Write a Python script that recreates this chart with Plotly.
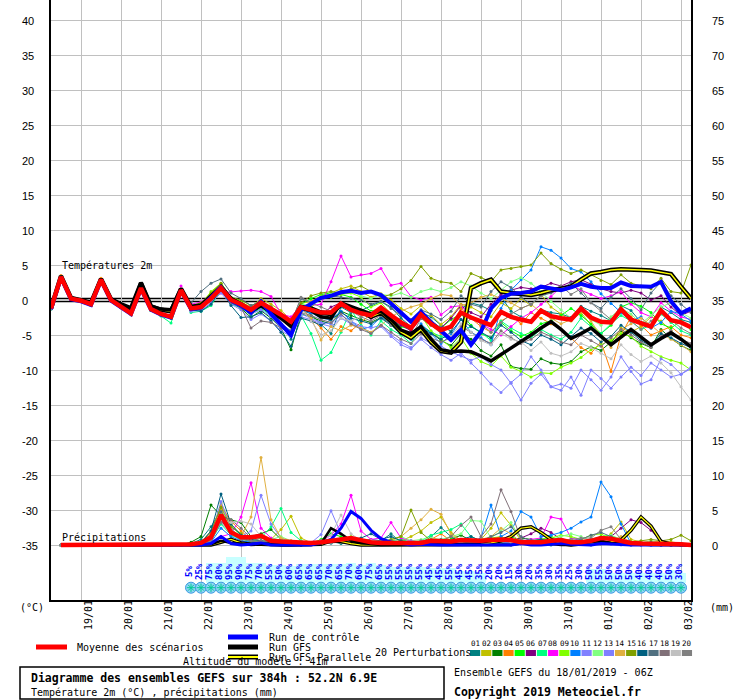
import plotly.graph_objects as go

# ---------------- data ----------------
hours = list(range(0, 385, 6))          # lead time (h) from 18/01/2019 06Z
date_labels = ["19/01", "20/01", "21/01", "22/01", "23/01", "24/01", "25/01", "26/01",
               "27/01", "28/01", "29/01", "30/01", "31/01", "01/02", "02/02", "03/02"]
date_hours = [18, 42, 66, 90, 114, 138, 162, 186, 210, 234, 258, 282, 306, 330, 354, 378]
temp_ticks = [-35, -30, -25, -20, -15, -10, -5, 0, 5, 10, 15, 20, 25, 30, 35, 40]
precip_ticks = [0, 5, 10, 15, 20, 25, 30, 35, 40, 45, 50, 55, 60, 65, 70, 75]

pert_labels = ["01", "02", "03", "04", "05", "06", "07", "08", "09", "10",
               "11", "12", "13", "14", "15", "16", "17", "18", "19", "20"]
pert_colors = ["#008080", "#c0c000", "#008000", "#ff8000", "#00ff00", "#800080", "#00ff80",
               "#ff00ff", "#80ff00", "#0080ff", "#8080ff", "#80ff80", "#7f7fff", "#e0b040",
               "#80a000", "#006080", "#507080", "#807078", "#c0c0c0", "#808080"]

# precipitation probability labels (from step 14 on) and cyan band level
pop_values = [5, 25, 75, 80, 95, 90, 75, 70, 55, 50, 60, 65, 65, 65, 70, 65, 70,
              60, 75, 65, 55, 55, 55, 55, 45, 45, 55, 45, 45, 35, 20, 20, 15,
              30, 20, 35, 30, 35, 25, 30, 50, 55, 50, 50, 50, 40, 40, 40, 50, 30]
cyan_levels = [0, 0, 20, 20, 26, 26, 20, 20, 18, 18, 17, 19, 19, 19, 19, 19, 20,
               18, 20, 18, 16, 16, 16, 16, 15, 15, 15, 12, 12, 10, 0, 0, 0,
               0, 0, 0, 0, 0, 0, 0, 14, 14, 10, 10, 10, 10, 10, 10, 13, 10]

# ---- 2 m temperatures (°C) ----
t_mean = [-1.2, 3.3, 0.2, -0.1, -0.6, 2.9, 0.0, -1.0, -1.9, 1.7, -1.3, -2.0, -2.4,
          1.4, -1.2, -1.0, 0.2, 1.7, 0.0, -0.6, -1.4, -0.4, -1.2, -2.1, -3.1, -1.0,
          -1.4, -1.8, -1.8, -0.5, -1.4, -1.9, -2.2, -1.1, -2.2, -3.2, -4.0, -2.1, -3.4,
          -4.3, -3.8, -1.8, -2.5, -3.0, -3.6, -1.7, -2.4, -2.8, -3.1, -1.5, -2.3, -2.6,
          -2.8, -1.2, -2.5, -3.1, -3.2, -1.3, -2.8, -3.3, -3.8, -1.5, -2.9, -3.2, -3.9]
t_ctrl = [-1.3, 3.2, 0.1, -0.2, -0.7, 2.8, -0.1, -1.1, -2.0, 1.6, -1.4, -2.1, -2.5,
          1.3, -1.3, -1.1, 0.3, 1.8, -0.1, -0.8, -1.8, -0.2, -2.0, -3.5, -5.0, -1.4,
          -0.6, 0.3, 0.6, 1.1, 1.3, 1.0, 1.2, 0.7, -0.5, -1.8, -3.1, -1.7, -3.2,
          -4.4, -5.7, -4.3, -6.4, -4.5, -1.2, 0.3, 0.9, 1.0, 1.2, 1.9, 1.6, 1.4,
          1.8, 2.3, 1.9, 1.7, 1.7, 2.5, 2.0, 1.9, 1.9, 2.6, -0.2, -1.9, -1.2]
t_gfs = [-1.2, 3.4, 0.3, 0.0, -0.4, 3.0, 0.1, -0.6, -1.3, 2.5, -0.9, -1.3, -1.4,
         1.6, -1.0, -0.8, 0.4, 1.9, 0.2, -0.6, -1.7, -0.8, -1.8, -2.6, -3.8, -1.2,
         -1.5, -2.4, -2.6, -0.4, -0.9, -1.4, -2.0, -1.6, -2.8, -4.3, -4.8, -3.8, -5.6,
         -7.1, -7.4, -7.3, -7.4, -8.0, -8.7, -7.8, -6.9, -6.0, -5.0, -4.0, -3.1, -4.2,
         -5.5, -4.8, -4.0, -5.2, -6.4, -5.3, -4.2, -5.3, -6.4, -5.5, -4.7, -5.6, -6.7]
t_par = [-1.2, 3.4, 0.3, 0.0, -0.4, 3.0, 0.1, -0.6, -1.2, 2.4, -0.9, -1.4, -1.6,
         1.6, -1.0, -0.8, 0.4, 1.8, 0.1, -0.6, -1.6, -0.6, -1.6, -2.4, -3.4, -1.0,
         -1.2, -1.8, -2.0, -0.6, -1.2, -1.6, -2.4, -1.8, -3.0, -4.6, -5.4, -4.2, -6.0,
         -7.3, -7.5, -6.0, 1.7, 2.4, 2.9, 1.2, 1.0, 0.8, 0.7, 1.0, 1.4, 1.6,
         1.9, 2.9, 3.8, 4.0, 4.3, 4.4, 4.4, 4.3, 4.2, 4.0, 3.7, 1.9, 0.2]

t_p01 = [-1.3, 3.4, 0.2, -0.2, -0.6, 2.9, 0.0, -1.0, -1.9, 1.7, -1.3, -2.1, -2.5,
         1.3, -1.5, -1.2, 0.5, 1.6, -0.3, -1.0, -2.2, -0.8, -1.9, -3.4, -5.6, -1.4,
         -2.0, -3.5, -4.8, -1.0, -1.8, -1.5, -0.8, -0.2, -1.0, -2.6, -3.8, -1.8, -2.4,
         -3.6, -4.5, -1.2, -0.4, -0.8, -1.5, 0.5, -1.6, -2.4, -3.0, -1.4, -1.8, -2.0,
         -2.5, -0.9, -1.6, -2.2, -3.0, -0.8, -1.5, -3.2, -4.0, -1.0, -1.8, -2.8, -3.2]
t_p02 = [-1.2, 3.3, 0.3, -0.1, -0.6, 3.0, 0.0, -0.9, -1.8, 1.8, -1.2, -2.0, -2.3,
         1.5, -1.0, -0.5, 0.8, 2.2, 0.2, -0.3, -1.0, 0.2, -0.6, -1.5, -2.8, -0.5,
         -0.2, 0.6, 1.0, 1.6, 2.0, 1.2, 0.4, 0.9, 0.0, -1.2, -2.0, -0.8, -2.2,
         -3.5, -2.4, -0.6, -1.0, -1.8, -2.4, -0.4, -1.2, 0.2, -0.8, 0.8, -1.0, -2.0,
         -3.0, -1.8, -3.6, -5.0, -6.2, -4.0, -4.6, -3.8, -2.4, -3.0, -4.4, -5.6, -7.0]
t_p03 = [-1.2, 3.2, 0.1, -0.2, -0.8, 2.8, -0.1, -1.1, -2.1, 1.6, -1.5, -2.2, -2.6,
         1.2, -1.4, -1.3, 0.0, 1.2, -0.4, -1.2, -2.5, -1.5, -2.6, -4.0, -7.1, -2.0,
         -2.4, -3.0, -3.4, -1.6, -2.2, -2.8, -3.2, -2.5, -3.4, -4.4, -5.2, -3.6, -4.6,
         -5.8, -6.5, -4.8, -5.6, -7.2, -8.0, -6.4, -9.5, -9.8, -9.9, -8.4, -9.0, -9.2,
         -8.8, -7.4, -6.7, -7.2, -6.0, -4.4, -5.4, -6.2, -6.8, -4.2, -5.5, -6.5, -7.2]
t_p04 = [-1.1, 3.5, 0.3, 0.0, -0.5, 3.1, 0.1, -0.9, -1.8, 1.8, -1.2, -1.9, -2.3,
         1.5, -1.1, -0.8, 0.6, 2.0, 0.1, -0.4, -1.4, -0.2, -1.5, -2.5, -3.6, -1.2,
         -2.6, -4.0, -5.6, -3.8, -4.4, -3.2, -2.0, -1.6, -2.8, -3.4, -4.2, -2.6, -3.6,
         -4.8, -3.6, -1.2, -2.6, -3.8, -4.6, -3.0, -2.2, -3.4, -1.8, -2.6, -3.4, -4.2,
         -5.4, -6.8, -7.6, -6.0, -10.2, -5.0, -2.4, -3.6, -5.0, -4.4, -3.8, -5.0, -5.4]
t_p05 = [-1.3, 3.3, 0.2, -0.1, -0.7, 2.9, 0.0, -1.0, -1.9, 1.7, -1.4, -2.1, -2.4,
         1.4, -1.3, -0.9, 0.4, 1.4, 0.2, -0.8, -1.6, -0.5, -1.0, -2.4, -3.2, -0.6,
         0.2, 0.8, 1.0, 0.8, 0.4, -0.6, -1.6, -1.2, -2.6, -3.8, -4.2, -1.8, -3.0,
         -4.0, -2.8, -2.0, -3.6, -4.8, -5.4, -3.2, -4.4, -5.2, -4.6, -3.4, -3.0, -2.2,
         -1.2, -2.2, -3.4, -4.8, -3.6, -1.0, -0.4, -0.9, -1.8, -3.4, -4.0, -3.0, -4.2]
t_p06 = [-1.2, 3.3, 0.2, -0.1, -0.6, 2.9, 0.0, -1.0, -1.9, 1.7, -1.3, -2.0, -2.4,
         1.4, -1.2, -0.9, 0.3, 1.6, -0.2, -0.9, -1.6, -0.8, -1.7, -2.8, -3.6, -1.4,
         -1.8, -2.2, -1.0, -0.4, -1.2, -1.8, -2.6, -1.4, -2.8, -3.6, -4.4, -2.6, -3.2,
         -4.0, -2.6, -0.8, -1.8, -2.4, -0.6, 0.8, 1.4, 1.8, 1.6, 1.8, 2.4, 2.0,
         2.6, 2.9, 2.2, 1.6, 1.2, 1.0, 1.4, 1.0, 0.0, 0.6, -1.0, -2.2, -1.6]
t_p07 = [-1.2, 3.3, 0.2, -0.1, -0.6, 2.9, 0.0, -1.0, -1.9, 1.7, -1.5, -2.3, -3.3,
         1.2, -1.8, -1.6, -0.8, 1.4, -0.6, -1.0, -2.0, -1.2, -2.2, -3.6, -4.8, -2.2,
         -4.8, -8.6, -7.5, -4.6, -1.4, -3.6, -5.0, -3.0, -4.2, -5.0, -6.2, -4.0, -4.6,
         -5.2, -5.6, -4.4, -3.8, -4.6, -5.8, -3.0, -4.0, -4.8, -5.4, -4.2, -5.0, -5.6,
         -4.6, -2.6, -3.8, -4.8, -3.4, -2.2, -3.0, -4.2, -3.6, -2.0, -3.2, -4.4, -5.0]
t_p08 = [-1.2, 3.3, 0.2, -0.1, -0.6, 2.9, 0.0, -1.0, -1.9, 1.7, -1.3, -2.0, -2.4,
         2.0, -0.6, -0.3, 0.8, 1.0, 1.2, 1.3, 1.4, 1.2, 0.5, -2.0, -2.4, -0.8,
         -0.8, -0.6, 2.6, 6.3, 3.3, 3.6, 3.8, 4.5, 2.1, 2.4, 0.5, 0.0, 0.4,
         -2.1, -1.0, -0.8, -2.6, -3.4, -4.2, -5.0, -3.8, -2.6, -1.8, -0.6, 0.5, 1.9,
         2.1, 1.4, 0.8, 0.2, 0.6, 1.2, -0.6, -1.8, -2.4, -0.4, -1.6, -2.4, -2.8]
t_p09 = [-1.2, 3.3, 0.2, -0.1, -0.6, 2.9, 0.0, -1.0, -1.9, 1.7, -1.3, -2.0, -2.4,
         1.4, -1.0, -0.6, 1.2, 2.4, 0.4, -0.2, -1.2, -0.6, -1.4, -2.4, -3.4, -0.8,
         -1.2, 0.6, 0.4, 0.8, 1.0, 0.4, -1.0, -0.4, -2.0, -3.0, -3.8, -2.2, -4.4,
         -5.6, -6.8, -5.4, -7.6, -8.8, -9.4, -8.0, -9.6, -10.2, -11.0, -10.4, -10.5, -9.6,
         -9.0, -8.2, -7.1, -6.4, -5.7, -4.8, -5.2, -6.6, -7.4, -8.1, -8.6, -9.0, -10.0]
t_p10 = [-1.2, 3.3, 0.2, -0.1, -0.6, 2.9, 0.0, -1.0, -1.9, 1.7, -1.3, -2.0, -2.4,
         1.4, -1.2, -1.0, 0.2, 1.5, -0.2, -0.8, -1.8, -1.0, -2.0, -3.4, -4.4, -1.6,
         -1.8, -2.6, -2.8, -1.6, -3.0, -4.2, -3.8, -2.4, -3.4, -4.8, -5.6, -3.4, -4.8,
         -6.2, -5.0, -2.8, -4.6, -5.4, -6.4, -1.2, 1.4, 2.9, 4.3, 7.6, 7.1, 6.0,
         4.5, 4.0, 2.6, 0.9, -0.5, -1.8, -3.0, -2.4, -4.0, -3.2, -1.6, -2.0, -3.0]
t_p11 = [-1.3, 3.2, 0.1, -0.2, -0.7, 2.8, -0.1, -1.1, -2.0, 1.6, -1.4, -2.1, -2.5,
         1.3, -1.6, -1.5, -0.4, 1.0, -0.6, -1.4, -2.8, -2.0, -3.0, -4.4, -5.2, -2.4,
         -2.8, -3.4, -3.8, -2.6, -3.4, -4.0, -4.6, -3.8, -5.2, -6.4, -7.0, -5.6, -6.8,
         -7.8, -8.6, -7.6, -9.0, -10.4, -12.0, -13.2, -11.8, -10.6, -8.1, -10.0, -12.4, -12.0,
         -12.6, -10.0, -11.4, -12.9, -11.0, -8.1, -10.2, -12.0, -11.4, -8.4, -9.2, -10.6, -9.8]
t_p12 = [-1.2, 3.3, 0.2, -0.1, -0.6, 2.9, 0.0, -1.0, -1.9, 1.7, -1.3, -2.0, -2.4,
         1.4, -1.0, -0.8, 0.6, 1.8, 0.2, -0.4, -1.2, -0.4, -1.2, -2.2, -3.0, -0.6,
         -0.8, 0.4, 1.0, 1.2, 1.4, 0.6, 0.2, 0.8, 0.6, 1.0, 0.4, 1.2, 1.6,
         1.2, 1.8, 2.6, 2.0, 1.0, 0.2, 1.4, 2.6, 3.2, 2.4, 1.2, -0.2, -1.4,
         -2.6, -1.6, -2.8, -3.6, -2.4, -1.2, -2.0, -3.4, -2.2, -1.0, -0.4, -1.8, -2.6]
t_p13 = [-1.2, 3.3, 0.2, -0.1, -0.6, 2.9, 0.0, -1.0, -1.9, 1.7, -1.3, -2.0, -2.4,
         1.4, -1.4, -1.2, 0.0, 1.2, -0.4, -1.0, -2.0, -1.4, -2.4, -4.0, -4.8, -2.0,
         -2.6, -3.2, -3.4, -2.2, -3.0, -3.8, -4.0, -3.6, -5.0, -6.0, -6.8, -5.4, -6.2,
         -6.6, -7.4, -8.0, -8.6, -8.1, -9.2, -10.0, -11.9, -14.3, -11.9, -10.6, -12.4, -12.9,
         -11.0, -13.6, -10.0, -11.2, -12.6, -11.0, -9.6, -10.8, -9.0, -10.0, -11.0, -10.6, -9.6]
t_p14 = [-1.2, 3.4, 0.3, -0.1, -0.6, 3.0, 0.0, -1.0, -1.9, 1.8, -1.3, -2.0, -2.4,
         1.4, -1.2, -0.9, 0.4, 1.6, -0.2, -0.8, -1.6, -0.6, -1.6, -2.6, -3.4, -1.0,
         -2.6, -5.7, -3.8, -4.4, -3.6, -4.0, -4.6, -3.6, -2.4, -1.6, -1.0, -0.6, 0.2,
         0.8, 0.6, -0.8, -0.4, 0.4, 0.8, 0.2, -0.4, -1.2, -0.6, -1.8, -2.6, -3.4,
         -2.8, -1.6, -3.0, -5.2, -6.8, -4.2, -3.4, -2.6, -3.6, -4.8, -5.6, -6.4, -7.4]
t_p15 = [-1.2, 3.3, 0.2, -0.1, -0.6, 2.9, 0.0, -1.0, -1.9, 1.7, -1.3, -2.0, -2.4,
         1.6, -0.8, -0.4, 1.0, 2.4, 0.4, 0.0, -0.8, -0.2, -1.0, -2.0, -3.0, -0.4,
         0.6, 1.0, 1.2, 1.0, 1.6, 2.0, 1.2, 0.4, 0.8, 1.6, 2.8, 4.8, 3.1,
         2.6, 2.4, 1.2, 3.8, 3.2, 2.6, 4.3, 4.5, 4.8, 5.0, 6.7, 5.2, 4.4,
         3.8, 4.3, 3.6, 2.8, 2.2, 3.6, 2.4, 2.0, 1.6, 3.1, 1.2, 1.0, 5.0]
t_p16 = [-1.2, 3.3, 0.2, -0.1, -0.6, 2.9, 0.0, -1.0, -1.9, 1.7, -1.3, -2.0, -2.4,
         1.4, -1.4, -1.6, -0.6, 1.6, -0.8, -2.5, -2.4, -1.8, -3.0, -4.6, -6.6, -2.6,
         -3.0, -3.6, -2.8, -1.8, -2.6, -3.0, -3.4, -2.6, -3.6, -4.8, -5.4, -4.0, -4.8,
         -5.6, -4.6, -2.8, -3.8, -4.6, -5.4, -3.6, -4.6, -5.8, -6.4, -5.0, -5.6, -6.4,
         -5.2, -4.0, -4.8, -6.0, -5.2, -3.6, -4.6, -5.8, -6.6, -4.8, -5.4, -6.2, -6.8]
t_p17 = [-1.2, 3.3, 0.2, -0.1, -0.6, 2.9, 0.0, -1.0, -1.9, 1.7, -1.3, -2.0, -2.4,
         1.4, -0.4, 1.2, 2.4, 3.0, 1.0, 0.2, -0.8, -0.2, -1.0, -2.2, -3.2, 0.2,
         -0.4, 0.2, 0.6, 0.4, 0.2, 0.0, -0.6, -0.2, -1.2, -2.2, -2.8, -1.4, -2.0,
         -2.8, -1.6, 0.6, -0.6, -1.0, 1.2, 2.6, 1.8, 0.4, -0.6, 0.6, 1.0, 1.6,
         2.4, 1.0, -0.4, -1.2, 0.4, 1.6, 0.2, -1.4, 1.0, 2.6, 0.6, -0.6, -1.8]
t_p18 = [-1.2, 3.3, 0.2, -0.1, -0.6, 2.9, 0.0, -1.0, -1.9, 1.7, -1.3, -2.0, -2.4,
         1.4, -1.2, -1.0, 0.2, 1.4, -0.4, -1.0, -4.0, -3.0, -3.2, -4.0, -4.4, -1.8,
         -2.2, -2.8, -3.2, -2.0, -3.4, -4.2, -4.8, -3.6, -4.6, -5.6, -6.2, -4.8, -5.4,
         -6.0, -5.4, -3.8, -4.6, -5.6, -6.2, -4.4, -5.4, -6.2, -5.6, -4.6, -5.2, -6.0,
         -6.4, -5.0, -5.8, -6.6, -5.4, -4.2, -5.0, -6.0, -6.8, -5.2, -4.4, -5.6, -6.2]
t_p19 = [-1.2, 3.3, 0.2, -0.1, -0.6, 2.9, 0.0, -1.0, -1.9, 1.7, -1.3, -2.0, -2.4,
         1.4, -1.2, -1.0, 0.4, 1.6, -0.2, -0.6, -1.4, -0.6, -1.6, -2.8, -3.6, -1.2,
         -3.0, -5.0, -4.4, -2.6, -3.0, -2.4, -1.8, -1.0, -2.0, -3.2, -4.0, -2.0, -2.8,
         -4.4, -5.2, -3.4, -4.6, -5.8, -6.4, -4.8, -5.6, -6.0, -7.2, -6.0, -7.6, -8.0,
         -7.4, -6.2, -6.8, -7.6, -8.4, -6.4, -7.8, -8.8, -8.0, -9.0, -10.4, -12.4, -14.3]
t_p20 = [-1.2, 3.3, 0.2, -0.1, -0.6, 2.9, 0.0, -1.0, -1.9, 1.7, -1.3, -2.0, -2.4,
         1.4, -1.0, -0.8, 0.6, 1.8, 0.0, -0.6, -1.4, -0.4, -1.4, -2.4, -3.4, 0.4,
         -0.4, -1.0, -1.6, -0.8, -1.6, -2.4, -3.0, -2.2, -3.6, -4.4, -5.4, -2.6, -3.6,
         -4.6, -5.8, -4.2, -2.6, -3.4, -4.6, -3.2, -2.0, -1.2, -0.6, 0.6, 1.4, 2.0,
         0.8, 1.6, -0.4, -1.6, -2.8, -1.4, -3.0, -4.2, -3.0, -1.8, -2.8, -4.0, -4.8]

# ---- precipitation (mm per 6 h) ----
p_mean = [None, 0, 0, 0, 0, 0, 0, 0, 0, 0, 0, 0, 0, 0,
          0.1, 0.3, 1.1, 4.3, 1.8, 1.1, 1.1, 1.3, 0.6, 0.5, 0.4, 0.4,
          0.3, 0.4, 0.6, 0.8, 1.0, 0.7, 0.4, 0.3, 0.3, 0.3, 0.4, 0.3, 0.6,
          0.6, 0.5, 0.7, 0.6, 0.6, 0.7, 0.8, 0.7, 0.4, 0.4, 0.4, 0.6, 0.7,
          0.4, 0.4, 0.6, 1.0, 0.9, 0.6, 0.3, 0.2, 0.2, 0.2, 0.1, 0.1, 0.0]
p_ctrl = [None, 0, 0, 0, 0, 0, 0, 0, 0, 0, 0, 0, 0, 0,
          0.0, 0.0, 0.2, 1.2, 0.2, 0.0, 0.1, 0.3, 0.0, 0.0, 0.0, 0.0,
          0.0, 0.3, 0.8, 2.4, 4.8, 3.8, 2.1, 0.9, 0.4, 0.2, 0.0, 0.1, 0.0,
          0.0, 0.0, 0.0, 0.1, 0.0, 0.0, 0.1, 0.0, 0.2, 0.0, 0.0, 0.1, 0.2,
          0.1, 0.0, 0.0, 0.2, 0.1, 0.0, 0.0, 0.0, 0.0, 0.0, 0.0, 0.0, 0.0]
p_gfs = [None, 0, 0, 0, 0, 0, 0, 0, 0, 0, 0, 0, 0, 0,
         0.0, 0.0, 0.1, 0.6, 0.3, 0.2, 0.0, 0.1, 0.2, 0.0, 0.0, 0.0,
         0.0, 0.2, 2.4, 1.6, 0.6, 0.3, 0.1, 0.0, 0.0, 0.0, 0.0, 0.0, 0.0,
         0.0, 0.0, 0.1, 0.0, 0.0, 0.0, 0.0, 0.0, 0.2, 0.4, 0.3, 0.1, 0.0,
         0.0, 0.2, 0.4, 0.6, 0.3, 0.2, 0.1, 0.0, 0.0, 0.0, 0.0, 0.0, 0.0]
p_par = [None, 0, 0, 0, 0, 0, 0, 0, 0, 0, 0, 0, 0, 0,
         0.0, 0.0, 0.0, 0.4, 0.8, 0.3, 0.1, 0.1, 0.0, 0.0, 0.0, 0.0,
         0.0, 0.1, 0.6, 0.5, 0.2, 0.0, 0.0, 0.0, 0.0, 0.0, 0.0, 0.0, 0.0,
         0.0, 0.0, 0.0, 0.0, 0.1, 0.3, 0.6, 1.2, 2.4, 2.6, 1.8, 0.8, 0.2,
         0.0, 0.1, 0.3, 0.2, 0.4, 0.7, 2.1, 4.0, 2.7, 0.5, 0.1, 0.0, 0.0]

p_p01 = [None, 0, 0, 0, 0, 0, 0, 0, 0, 0, 0, 0, 0, 0,
         0.2, 0.8, 2.6, 5.0, 2.2, 1.0, 0.6, 0.4, 0.2, 0.4, 0.2, 0.0,
         0.1, 0.3, 0.5, 0.2, 0.4, 0.6, 0.8, 0.6, 1.6, 0.4, 0.2, 0.3, 1.2,
         2.5, 1.2, 0.4, 0.2, 0.0, 0.3, 0.1, 0.0, 0.2, 0.4, 0.2, 0.0, 0.3,
         0.6, 0.2, 0.0, 0.3, 0.4, 0.2, 0.0, 0.0, 0.3, 0.1, 0.0, 0.0, 0.0]
p_p02 = [None, 0, 0, 0, 0, 0, 0, 0, 0, 0, 0, 0, 0, 0,
         0.0, 0.4, 1.5, 6.0, 3.0, 1.4, 0.6, 0.4, 0.8, 2.2, 4.1, 1.0,
         0.3, 0.2, 0.6, 0.4, 0.8, 0.6, 0.3, 0.4, 0.2, 0.6, 1.2, 2.0, 3.2,
         4.0, 1.8, 0.6, 0.4, 0.8, 2.4, 4.6, 2.8, 0.6, 0.2, 0.4, 0.6, 0.8,
         0.6, 0.4, 0.2, 0.5, 1.6, 3.3, 0.8, 0.4, 0.2, 0.6, 0.4, 0.2, 0.1]
p_p03 = [None, 0, 0, 0, 0, 0, 0, 0, 0, 0, 0, 0, 0, 0,
         0.4, 1.2, 5.7, 4.2, 3.6, 3.2, 1.2, 1.6, 2.2, 0.8, 0.3, 0.2,
         0.1, 0.2, 0.8, 0.4, 0.2, 0.6, 0.3, 0.1, 0.2, 0.4, 0.6, 0.3, 0.2,
         0.4, 0.8, 1.4, 0.6, 0.3, 0.2, 0.4, 0.6, 1.0, 0.8, 0.4, 0.6, 0.9,
         0.6, 0.3, 0.2, 0.4, 0.3, 0.2, 0.4, 0.2, 0.1, 0.2, 0.0, 0.0, 0.0]
p_p04 = [None, 0, 0, 0, 0, 0, 0, 0, 0, 0, 0, 0, 0, 0,
         0.0, 0.2, 1.8, 5.5, 3.4, 2.0, 0.8, 0.6, 0.4, 0.2, 0.6, 0.4,
         0.2, 0.4, 0.6, 1.0, 0.6, 0.4, 0.2, 0.2, 0.4, 0.6, 0.4, 0.2, 0.8,
         1.6, 0.6, 0.4, 0.2, 0.4, 0.8, 1.2, 0.6, 0.2, 0.3, 0.5, 0.2, 0.4,
         0.8, 0.4, 0.3, 0.2, 0.6, 0.4, 0.2, 0.1, 0.2, 0.4, 0.2, 0.1, 0.0]
p_p05 = [None, 0, 0, 0, 0, 0, 0, 0, 0, 0, 0, 0, 0, 0,
         0.0, 0.1, 1.0, 4.5, 2.0, 1.0, 0.4, 0.2, 0.3, 0.6, 0.2, 0.1,
         0.2, 0.8, 1.6, 1.2, 0.6, 0.4, 0.2, 0.3, 0.2, 0.1, 0.3, 0.2, 0.4,
         0.6, 0.8, 0.4, 0.3, 0.6, 0.4, 0.8, 1.2, 0.6, 0.4, 0.8, 1.2, 0.6,
         0.4, 0.2, 0.8, 1.2, 1.4, 0.6, 0.3, 0.2, 0.4, 0.3, 0.2, 0.1, 0.0]
p_p06 = [None, 0, 0, 0, 0, 0, 0, 0, 0, 0, 0, 0, 0, 0,
         0.0, 0.2, 0.8, 3.5, 1.8, 0.6, 0.3, 0.2, 0.1, 0.2, 0.1, 0.0,
         0.1, 0.2, 0.4, 0.8, 0.6, 0.3, 0.2, 0.1, 0.1, 0.2, 0.4, 0.3, 0.2,
         0.1, 0.2, 0.4, 0.3, 0.2, 0.1, 0.3, 0.6, 1.0, 1.6, 2.4, 1.8, 0.8,
         0.6, 0.4, 0.3, 0.6, 1.2, 2.4, 3.6, 3.2, 2.1, 0.6, 0.2, 0.1, 0.0]
p_p07 = [None, 0, 0, 0, 0, 0, 0, 0, 0, 0, 0, 0, 0, 0,
         0.0, 0.1, 0.6, 3.0, 1.4, 0.8, 0.6, 1.0, 2.6, 5.2, 1.8, 0.6,
         0.2, 0.1, 0.3, 0.6, 0.4, 0.2, 0.3, 0.2, 0.6, 0.8, 0.4, 0.6, 1.4,
         1.8, 2.2, 3.0, 1.2, 0.6, 0.4, 0.3, 0.2, 0.4, 0.6, 0.8, 0.6, 0.4,
         0.4, 0.6, 0.4, 0.2, 0.3, 0.2, 0.1, 0.2, 0.1, 0.0, 0.0, 0.0, 0.0]
p_p08 = [None, 0, 0, 0, 0, 0, 0, 0, 0, 0, 0, 0, 0, 0,
         0.0, 0.0, 0.4, 1.2, 1.6, 4.0, 8.9, 2.4, 1.0, 0.6, 0.4, 0.3,
         0.2, 0.6, 1.4, 3.0, 7.1, 2.0, 0.8, 1.0, 3.2, 1.0, 0.6, 0.4, 0.3,
         0.2, 0.4, 0.3, 0.2, 0.4, 0.3, 0.2, 0.4, 0.6, 0.8, 1.0, 4.0, 3.7,
         1.0, 0.6, 0.4, 0.2, 0.2, 0.4, 0.2, 0.1, 0.0, 0.0, 0.1, 0.0, 0.0]
p_p09 = [None, 0, 0, 0, 0, 0, 0, 0, 0, 0, 0, 0, 0, 0,
         0.0, 0.2, 0.8, 4.0, 2.6, 1.6, 0.8, 0.4, 0.6, 0.8, 0.4, 0.2,
         0.3, 0.4, 0.6, 0.8, 1.2, 0.8, 0.4, 0.2, 0.3, 0.6, 0.4, 0.2, 0.6,
         0.8, 0.6, 0.3, 0.6, 0.8, 1.0, 1.2, 0.6, 0.4, 0.6, 0.8, 1.0, 1.4,
         1.2, 0.8, 1.4, 1.6, 0.8, 0.6, 0.4, 0.3, 0.2, 0.4, 0.2, 0.1, 0.0]
p_p10 = [None, 0, 0, 0, 0, 0, 0, 0, 0, 0, 0, 0, 0, 0,
         0.0, 0.1, 0.4, 2.4, 1.2, 0.6, 0.4, 0.2, 0.4, 0.2, 0.3, 0.2,
         0.1, 0.2, 0.3, 0.4, 0.6, 0.4, 0.2, 0.1, 0.2, 0.1, 0.2, 0.3, 0.2,
         0.2, 0.4, 0.6, 0.4, 1.0, 5.7, 1.2, 2.0, 4.8, 4.0, 1.2, 1.4, 1.8,
         2.4, 3.3, 4.0, 9.0, 6.9, 3.0, 0.2, 0.1, 0.3, 0.6, 0.2, 0.1, 0.0]
p_p11 = [None, 0, 0, 0, 0, 0, 0, 0, 0, 0, 0, 0, 0, 0,
         0.0, 0.2, 1.0, 3.6, 2.0, 1.2, 2.0, 7.1, 3.0, 1.0, 0.4, 0.2,
         0.3, 1.5, 4.9, 1.6, 0.6, 0.4, 0.2, 0.3, 0.2, 0.4, 0.2, 0.1, 0.3,
         0.2, 0.4, 0.2, 0.1, 0.3, 0.2, 0.4, 0.2, 0.1, 0.2, 0.3, 0.2, 0.1,
         0.2, 0.1, 0.3, 0.2, 0.1, 0.0, 0.1, 0.0, 0.0, 0.0, 0.0, 0.0, 0.0]
p_p12 = [None, 0, 0, 0, 0, 0, 0, 0, 0, 0, 0, 0, 0, 0,
         0.0, 0.3, 1.4, 4.4, 2.8, 1.2, 0.8, 0.6, 0.8, 1.2, 0.6, 0.2,
         0.2, 0.3, 0.6, 0.4, 0.3, 0.4, 0.6, 0.4, 0.8, 1.2, 0.6, 0.8, 1.0,
         0.8, 1.2, 1.6, 3.5, 3.4, 1.0, 2.0, 3.2, 0.8, 0.4, 0.6, 0.8, 1.2,
         1.6, 1.2, 0.6, 1.0, 1.4, 0.8, 0.4, 0.3, 0.6, 0.4, 0.2, 0.1, 0.0]
p_p13 = [None, 0, 0, 0, 0, 0, 0, 0, 0, 0, 0, 0, 0, 0,
         0.0, 0.2, 1.2, 6.2, 2.4, 1.0, 0.6, 0.4, 0.3, 0.6, 0.4, 0.2,
         0.2, 0.4, 0.8, 0.6, 0.4, 0.2, 0.4, 0.3, 0.2, 0.4, 0.6, 0.4, 0.2,
         0.2, 0.4, 0.3, 0.2, 0.4, 0.3, 0.2, 0.3, 0.4, 0.2, 0.1, 0.2, 0.3,
         0.2, 0.1, 0.2, 0.3, 0.2, 0.1, 0.0, 0.1, 0.0, 0.0, 0.0, 0.0, 0.0]
p_p14 = [None, 0, 0, 0, 0, 0, 0, 0, 0, 0, 0, 0, 0, 0,
         0.0, 0.1, 0.6, 5.0, 2.2, 1.2, 4.0, 12.5, 3.6, 1.0, 0.6, 0.4,
         0.2, 0.4, 0.6, 0.8, 0.6, 0.4, 0.3, 0.4, 0.6, 1.2, 2.4, 3.6, 5.1,
         4.4, 1.5, 0.6, 0.4, 0.8, 1.2, 2.4, 1.6, 0.4, 0.2, 0.3, 0.2, 0.4,
         0.6, 0.4, 0.3, 0.2, 0.6, 1.2, 0.4, 0.2, 0.3, 0.6, 0.3, 0.1, 0.0]
p_p15 = [None, 0, 0, 0, 0, 0, 0, 0, 0, 0, 0, 0, 0, 0,
         0.0, 0.4, 2.0, 5.4, 2.6, 1.6, 0.6, 0.4, 0.3, 0.2, 0.4, 0.3,
         0.2, 0.3, 0.4, 0.6, 0.4, 0.3, 0.2, 0.4, 0.8, 1.2, 5.0, 1.8, 0.6,
         0.4, 0.3, 0.2, 0.4, 0.3, 0.2, 0.4, 0.6, 0.3, 0.2, 0.4, 0.3, 0.2,
         0.3, 0.2, 0.4, 0.3, 0.2, 0.3, 0.4, 0.6, 0.8, 0.6, 0.8, 1.4, 0.6]
p_p16 = [None, 0, 0, 0, 0, 0, 0, 0, 0, 0, 0, 0, 0, 0,
         0.0, 0.3, 2.0, 7.3, 3.0, 1.4, 0.8, 0.6, 0.4, 0.3, 0.2, 0.1,
         0.1, 0.2, 0.4, 0.6, 0.8, 1.0, 1.6, 0.8, 1.2, 0.6, 0.4, 0.2, 0.4,
         0.6, 0.4, 0.8, 1.2, 0.6, 0.4, 0.2, 0.3, 0.4, 0.6, 0.8, 0.6, 0.4,
         0.3, 0.2, 0.4, 0.6, 0.4, 0.3, 0.2, 0.1, 0.2, 0.1, 0.0, 0.0, 0.0]
p_p17 = [None, 0, 0, 0, 0, 0, 0, 0, 0, 0, 0, 0, 0, 0,
         0.0, 0.2, 1.4, 4.8, 2.0, 1.0, 0.6, 0.4, 0.8, 0.6, 0.3, 0.2,
         0.2, 0.3, 0.6, 0.8, 0.4, 0.2, 0.3, 0.4, 0.6, 0.3, 0.2, 0.4, 0.6,
         0.8, 0.6, 0.4, 0.3, 0.6, 1.2, 1.8, 2.6, 1.2, 0.6, 0.4, 0.3, 0.4,
         0.6, 0.8, 1.4, 1.8, 1.2, 0.6, 0.3, 0.2, 0.4, 0.2, 0.1, 0.0, 0.0]
p_p18 = [None, 0, 0, 0, 0, 0, 0, 0, 0, 0, 0, 0, 0, 0,
         0.0, 0.1, 0.8, 4.0, 3.6, 2.4, 1.0, 0.6, 0.4, 0.3, 0.2, 0.1,
         0.1, 0.2, 0.3, 0.4, 0.3, 0.2, 0.4, 0.6, 0.4, 0.2, 0.3, 0.6, 0.8,
         0.6, 1.2, 2.8, 4.0, 1.2, 3.0, 7.9, 4.8, 0.8, 0.4, 0.3, 0.2, 0.4,
         0.3, 0.2, 0.4, 0.6, 0.3, 0.2, 0.1, 0.2, 0.1, 0.0, 0.0, 0.0, 0.0]
p_p19 = [None, 0, 0, 0, 0, 0, 0, 0, 0, 0, 0, 0, 0, 0,
         0.0, 0.2, 1.0, 3.6, 3.2, 3.4, 3.0, 1.2, 0.6, 0.4, 0.2, 0.1,
         0.1, 0.3, 1.4, 4.3, 1.6, 0.6, 0.3, 0.2, 0.4, 0.2, 0.3, 0.2, 0.4,
         0.3, 0.2, 0.4, 0.6, 0.4, 0.3, 0.6, 0.4, 0.2, 0.3, 0.4, 0.6, 0.8,
         0.6, 0.4, 0.3, 0.2, 0.4, 0.6, 0.3, 0.2, 0.1, 0.2, 0.1, 0.0, 0.0]
p_p20 = [None, 0, 0, 0, 0, 0, 0, 0, 0, 0, 0, 0, 0, 0,
         0.0, 0.1, 0.6, 3.2, 1.8, 0.8, 0.6, 0.4, 0.3, 0.2, 0.4, 0.3,
         0.2, 0.3, 0.4, 0.6, 0.4, 0.3, 0.2, 0.4, 0.3, 0.2, 0.4, 0.3, 0.2,
         0.3, 0.4, 0.6, 0.4, 0.3, 0.2, 0.4, 0.6, 0.4, 0.3, 0.2, 0.4, 0.6,
         0.8, 1.0, 1.0, 2.1, 2.6, 0.8, 0.4, 0.3, 0.2, 0.1, 0.0, 0.0, 0.0]

pert_temps = [t_p01, t_p02, t_p03, t_p04, t_p05, t_p06, t_p07, t_p08, t_p09, t_p10,
              t_p11, t_p12, t_p13, t_p14, t_p15, t_p16, t_p17, t_p18, t_p19, t_p20]
pert_precs = [p_p01, p_p02, p_p03, p_p04, p_p05, p_p06, p_p07, p_p08, p_p09, p_p10,
              p_p11, p_p12, p_p13, p_p14, p_p15, p_p16, p_p17, p_p18, p_p19, p_p20]

for s in pert_temps + pert_precs + [t_mean, t_ctrl, t_gfs, t_par, p_mean, p_ctrl, p_gfs, p_par]:
    assert len(s) == len(hours), len(s)
assert len(pop_values) == len(cyan_levels) == 50

# ---------------- layout helpers ----------------
MONO = "DejaVu Sans Mono"
SANS = "Liberation Sans"
PLOT_L, PLOT_W, PLOT_H = 51, 640, 600
PX_PER_DEG = 7
Y_HALF = 300 / PX_PER_DEG       # 0 °C in the middle of the plot
SNOW_ROW = -41.1                # °C-axis position of the icon row
CYAN_BASE = -40.43              # °C-axis position of the bottom of the cyan band


def px(X):
    return (X - PLOT_L) / PLOT_W


def py(Y):
    return (PLOT_H - Y) / PLOT_H


fig = go.Figure()

# cyan band behind the probability labels (levels in pixels -> axis units)
pop_hours = hours[14:14 + len(pop_values)]
fig.add_trace(go.Bar(x=pop_hours, y=[lv / PX_PER_DEG for lv in cyan_levels], base=CYAN_BASE,
                     width=6, marker=dict(color="#c8ffff", line=dict(width=0)),
                     hoverinfo="skip"))

# snow icons row
fig.add_trace(go.Scatter(x=pop_hours, y=[SNOW_ROW] * len(pop_hours), mode="markers",
                         marker=dict(symbol="circle", size=11, color="#8fd3f5",
                                     line=dict(color="#3c9be0", width=1)),
                         hoverinfo="skip", cliponaxis=False))
fig.add_trace(go.Scatter(x=pop_hours, y=[SNOW_ROW] * len(pop_hours), mode="markers",
                         marker=dict(symbol="asterisk-open", size=7,
                                     line=dict(color="#ffffff", width=1)),
                         hoverinfo="skip", cliponaxis=False))

# temperature perturbations
for t, c in zip(pert_temps, pert_colors):
    fig.add_trace(go.Scatter(x=hours, y=t, mode="lines+markers",
                             line=dict(color=c, width=1), marker=dict(size=3, color=c),
                             hoverinfo="skip"))
fig.add_trace(go.Scatter(x=hours, y=t_par, mode="lines", line=dict(color="#000000", width=4.5),
                         hoverinfo="skip"))
fig.add_trace(go.Scatter(x=hours, y=t_par, mode="lines", line=dict(color="#ffff00", width=1.5),
                         hoverinfo="skip"))
fig.add_trace(go.Scatter(x=hours, y=t_gfs, mode="lines", line=dict(color="#000000", width=3.5),
                         hoverinfo="skip"))
fig.add_trace(go.Scatter(x=hours, y=t_ctrl, mode="lines", line=dict(color="#0000ff", width=4),
                         hoverinfo="skip"))
fig.add_trace(go.Scatter(x=hours, y=t_mean, mode="lines", line=dict(color="#ff0000", width=4.5),
                         hoverinfo="skip"))

# precipitation (right axis, mm)
for p, c in zip(pert_precs, pert_colors):
    fig.add_trace(go.Scatter(x=hours, y=p, mode="lines+markers", yaxis="y2",
                             line=dict(color=c, width=1), marker=dict(size=3, color=c),
                             hoverinfo="skip"))
fig.add_trace(go.Scatter(x=hours, y=p_par, mode="lines", yaxis="y2",
                         line=dict(color="#000000", width=3.5), hoverinfo="skip"))
fig.add_trace(go.Scatter(x=hours, y=p_par, mode="lines", yaxis="y2",
                         line=dict(color="#ffff00", width=1.2), hoverinfo="skip"))
fig.add_trace(go.Scatter(x=hours, y=p_gfs, mode="lines", yaxis="y2",
                         line=dict(color="#000000", width=2.5), hoverinfo="skip"))
fig.add_trace(go.Scatter(x=hours, y=p_ctrl, mode="lines", yaxis="y2",
                         line=dict(color="#0000ff", width=3), hoverinfo="skip"))
fig.add_trace(go.Scatter(x=hours, y=p_mean, mode="lines", yaxis="y2",
                         line=dict(color="#ff0000", width=4.5), hoverinfo="skip"))

ann = []
shapes = []


def text(x, y, s, size=10, bold=False, xanchor="left", color="black", family=MONO, **kw):
    ann.append(dict(x=x, y=y, xref=kw.pop("xref", "paper"), yref=kw.pop("yref", "paper"),
                    text=("<b>%s</b>" % s) if bold else s, showarrow=False,
                    xanchor=xanchor, yanchor="middle",
                    font=dict(family=family, size=size, color=color), **kw))


# axis labels
for v in temp_ticks:
    text(px(20), v, str(v), size=11, family=SANS, yref="y", yshift=-1)
for v in precip_ticks:
    text(px(710), v, str(v), size=11, family=SANS, yref="y2", yshift=-1)
for h, lab in zip(date_hours, date_labels):
    text(h, py(615), lab, size=10, xanchor="center", xref="x", textangle=-90, xshift=7)
text(px(32), py(607), "(°C)", xanchor="center")
text(px(722), py(607), "(mm)", xanchor="center")
text(px(60), py(265), "Températures 2m")
text(px(60), py(537), "Précipitations")

# probability labels
for h, v in zip(pop_hours, pop_values):
    text(h, py(572), "%d%%" % v, size=9, bold=True, xanchor="center", xref="x",
         color="#0000ff", textangle=-90, xshift=-2)

# 0 °C double line
shapes.append(dict(type="line", xref="paper", yref="y", x0=0, x1=1, y0=0, y1=0,
                   line=dict(color="black", width=4.5), layer="between"))
shapes.append(dict(type="line", xref="paper", yref="y", x0=0, x1=1, y0=0, y1=0,
                   line=dict(color="white", width=1.5), layer="between"))


def hline(x0, x1, Y, color, width):
    shapes.append(dict(type="line", xref="paper", yref="paper", x0=px(x0), x1=px(x1),
                       y0=py(Y), y1=py(Y), line=dict(color=color, width=width)))


# legend
hline(36, 67, 647, "#ff0000", 5)
text(px(75), py(647), "Moyenne des scénarios")
hline(228, 258, 637, "#0000ff", 5)
text(px(267), py(637), "Run de contrôle")
hline(228, 258, 647, "#000000", 5)
text(px(267), py(647), "Run GFS")
hline(228, 258, 657, "#000000", 5)
hline(228, 258, 657, "#ffff00", 2)
text(px(267), py(657), "Run GFS Parallele")
text(px(181), py(661), "Altitude du modèle : 41m")
text(px(373), py(652), "20 Perturbations")
for i, (lab, c) in enumerate(zip(pert_labels, pert_colors)):
    x0 = 470 + 11.15 * i
    shapes.append(dict(type="rect", xref="paper", yref="paper", x0=px(x0), x1=px(x0 + 10.2),
                       y0=py(656), y1=py(650), line=dict(width=0), fillcolor=c))
    text(px(x0 + 5.1), py(643), lab, size=7.5, xanchor="center")

# info box
shapes.append(dict(type="rect", xref="paper", yref="paper", x0=px(20), x1=px(444),
                   y0=py(699), y1=py(667), line=dict(color="black", width=1.5)))
text(px(29), py(678), "Diagramme des ensembles GEFS sur 384h : 52.2N 6.9E", size=11.5, bold=True)
text(px(29), py(692), "Température 2m (°C) , précipitations (mm)", size=10)
text(px(452), py(672), "Ensemble GEFS du 18/01/2019 - 06Z", size=10)
text(px(452), py(692), "Copyright 2019 Meteociel.fr", size=11.5, bold=True)

fig.update_layout(
    width=740, height=700,
    margin=dict(l=51, r=49, t=0, b=100, autoexpand=False),
    paper_bgcolor="white", plot_bgcolor="rgba(0,0,0,0)",
    showlegend=False, hovermode=False, bargap=0,
    xaxis=dict(range=[0, 384], tickvals=date_hours, showticklabels=False, ticks="",
               showgrid=True, gridcolor="#c0c0c0", gridwidth=1, zeroline=False,
               showline=True, linecolor="black", linewidth=1.5),
    yaxis=dict(range=[-Y_HALF, Y_HALF], tickvals=temp_ticks, showticklabels=False, ticks="",
               showgrid=True, gridcolor="#c0c0c0", gridwidth=1, zeroline=False,
               showline=True, linecolor="black", linewidth=1.5),
    yaxis2=dict(range=[35 - Y_HALF, 35 + Y_HALF], overlaying="y", side="right",
                showgrid=False, showticklabels=False, ticks="", zeroline=False,
                showline=True, linecolor="black", linewidth=1.5),
    annotations=ann, shapes=shapes,
)

fig.write_html("out.html", config={"displayModeBar": False},
               post_script="document.body.style.margin='0';document.body.style.overflow='hidden';")
